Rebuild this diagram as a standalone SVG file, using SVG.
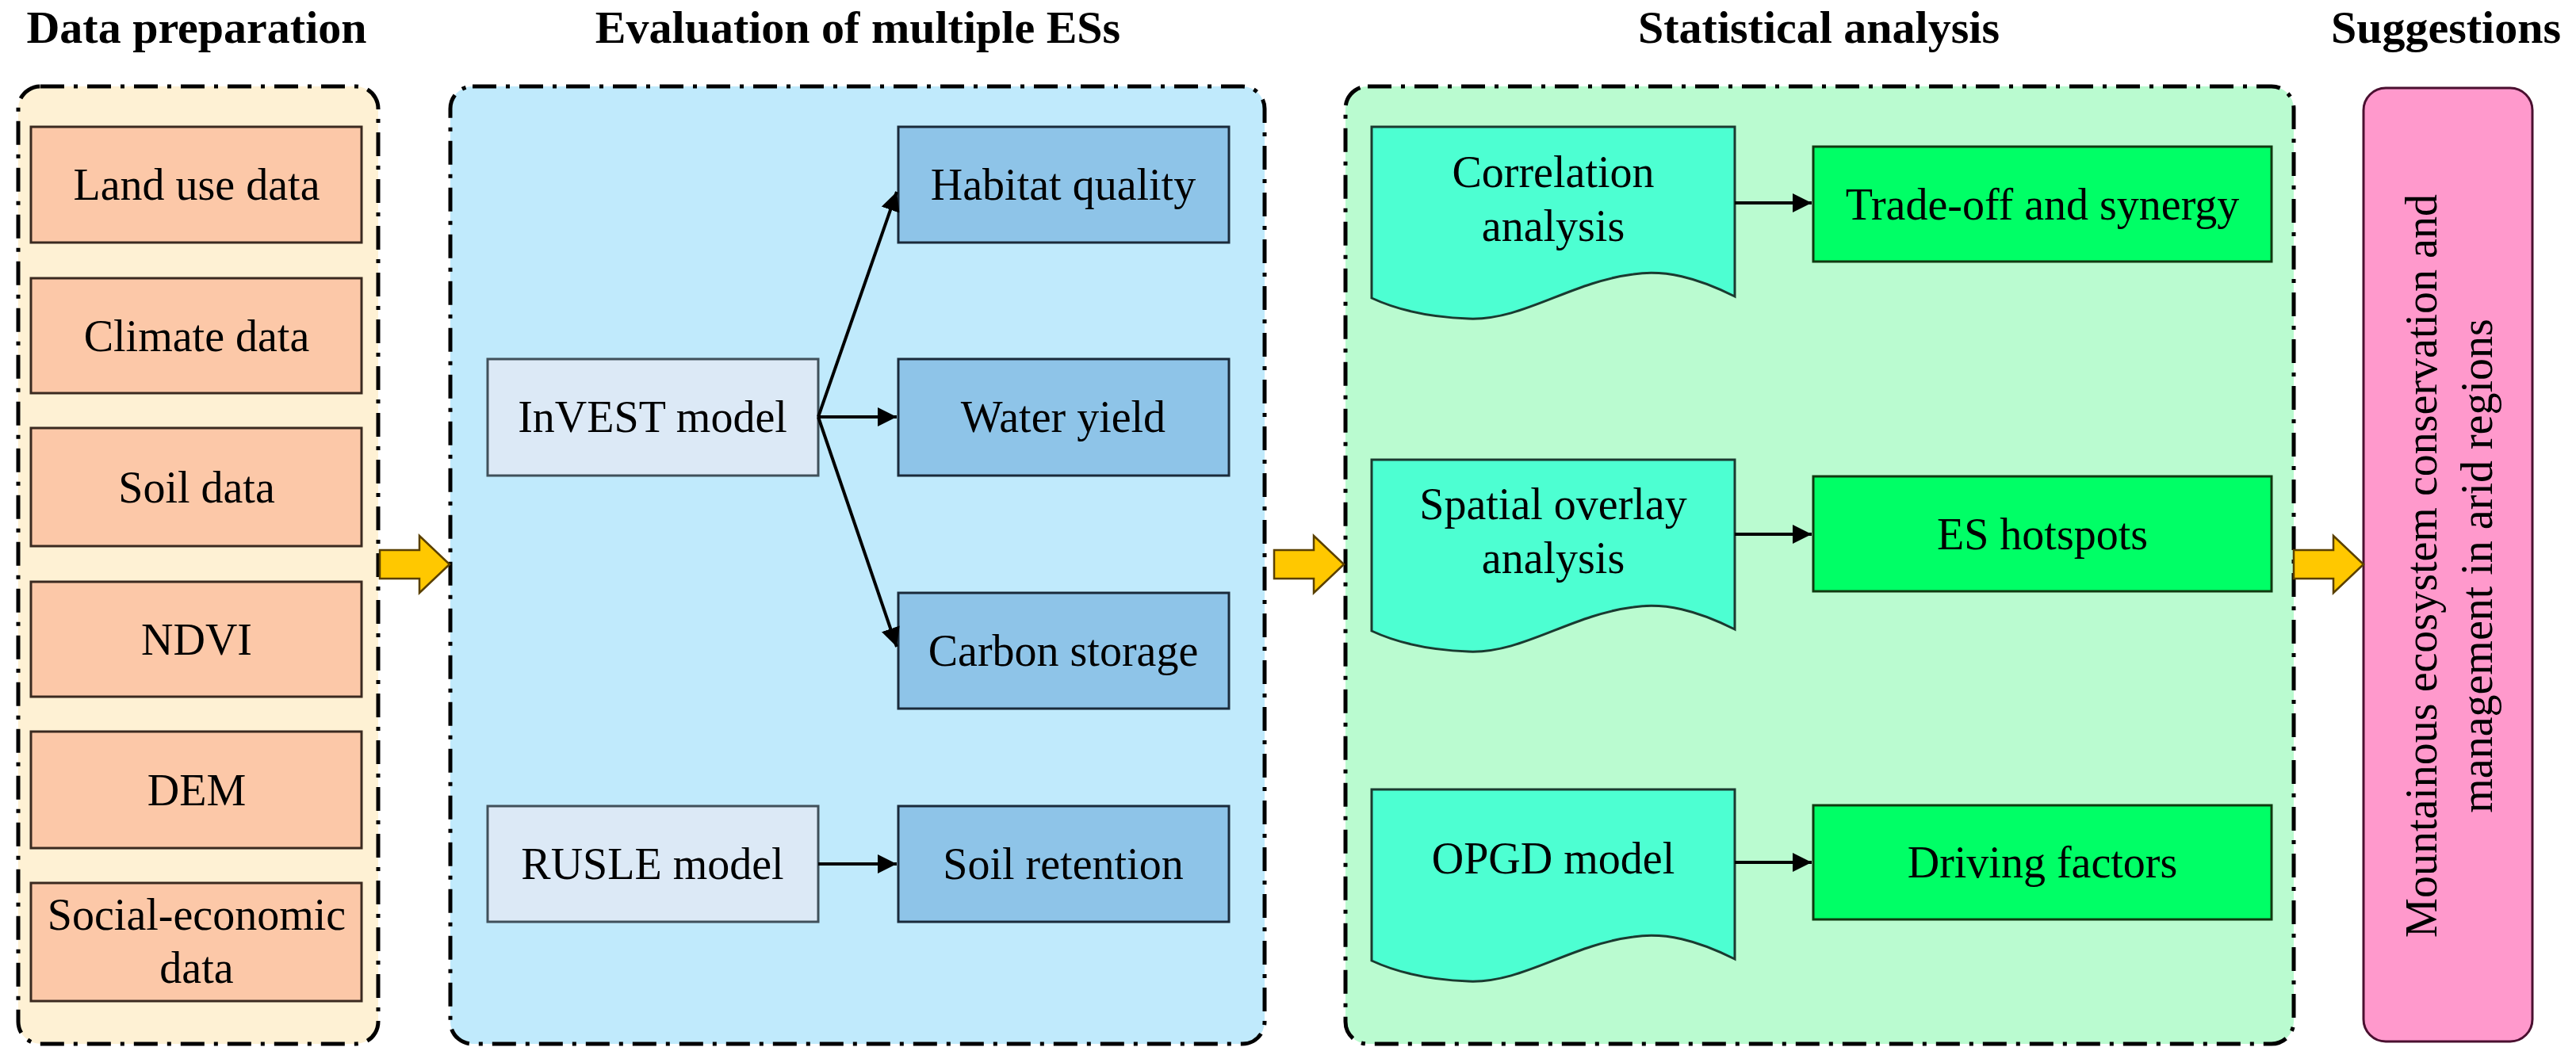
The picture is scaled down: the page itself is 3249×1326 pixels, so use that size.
<svg xmlns="http://www.w3.org/2000/svg" width="3249" height="1326" viewBox="0 0 3249 1326">
<style>
text{font-family:"Liberation Serif","Times New Roman",serif;fill:#000;text-anchor:middle}
.h{font-size:58px;font-weight:bold}
.t{font-size:56px}
.panel{stroke:#000;stroke-width:5;stroke-dasharray:30 12 5 12}
.data{fill:#FCC8A8;stroke:#3a2a20;stroke-width:3}
.model{fill:#DCE9F6;stroke:#40505a;stroke-width:3}
.es{fill:#8EC4E8;stroke:#1a2a3a;stroke-width:3}
.doc{fill:#4DFFD2;stroke:#1a3a30;stroke-width:3}
.res{fill:#00FF66;stroke:#103a10;stroke-width:3}
.con{stroke:#000;stroke-width:4;fill:none;marker-end:url(#ah)}
.big{fill:#FFC800;stroke:#5a4000;stroke-width:2.5}
</style>
<defs>
<marker id="ah" viewBox="0 0 10 10" refX="10" refY="5" markerWidth="6" markerHeight="6" orient="auto" markerUnits="strokeWidth"><path d="M0,0L10,5L0,10z" fill="#000"/></marker>
<path id="docshape" d="M0,0H458V214C410,190 370,180 330,186C250,196 190,245 122,242C70,240 30,230 0,216Z"/>
<path id="fat" d="M0,-18H50V-36L88,0L50,36V18H0Z"/>
</defs>
<rect width="3249" height="1326" fill="#fff"/>

<g id="headings">
<text class="h" x="248" y="54">Data preparation</text>
<text class="h" x="1082" y="54">Evaluation of multiple ESs</text>
<text class="h" x="2294" y="54">Statistical analysis</text>
<text class="h" x="3085" y="54">Suggestions</text>
</g>

<g id="panel-data"><rect class="panel" x="23" y="109" width="454" height="1208" rx="28" fill="#FEF1D4"/></g>
<g id="panel-eval"><rect class="panel" x="568" y="109" width="1027" height="1208" rx="28" fill="#C0EAFC"/></g>
<g id="panel-stat"><rect class="panel" x="1697" y="109" width="1196" height="1208" rx="28" fill="#BAFBD0"/></g>

<g id="n-landuse"><rect class="data" x="39" y="160" width="417" height="146"/><text class="t" x="248" y="252">Land use data</text></g>
<g id="n-climate"><rect class="data" x="39" y="351" width="417" height="145"/><text class="t" x="248" y="443">Climate data</text></g>
<g id="n-soil"><rect class="data" x="39" y="540" width="417" height="149"/><text class="t" x="248" y="634">Soil data</text></g>
<g id="n-ndvi"><rect class="data" x="39" y="734" width="417" height="145"/><text class="t" x="248" y="826">NDVI</text></g>
<g id="n-dem"><rect class="data" x="39" y="923" width="417" height="147"/><text class="t" x="248" y="1016">DEM</text></g>
<g id="n-social"><rect class="data" x="39" y="1114" width="417" height="149"/><text class="t" x="248" y="1173">Social-economic</text><text class="t" x="248" y="1240">data</text></g>

<g id="n-invest"><rect class="model" x="615" y="453" width="417" height="147"/><text class="t" x="823" y="545">InVEST model</text></g>
<g id="n-rusle"><rect class="model" x="615" y="1017" width="417" height="146"/><text class="t" x="823" y="1109">RUSLE model</text></g>
<g id="n-habitat"><rect class="es" x="1133" y="160" width="417" height="146"/><text class="t" x="1341" y="252">Habitat quality</text></g>
<g id="n-water"><rect class="es" x="1133" y="453" width="417" height="147"/><text class="t" x="1341" y="545">Water yield</text></g>
<g id="n-carbon"><rect class="es" x="1133" y="748" width="417" height="146"/><text class="t" x="1341" y="840">Carbon storage</text></g>
<g id="n-soilret"><rect class="es" x="1133" y="1017" width="417" height="146"/><text class="t" x="1341" y="1109">Soil retention</text></g>

<g id="n-corr"><use href="#docshape" class="doc" x="1730" y="160"/><text class="t" x="1959" y="236">Correlation</text><text class="t" x="1959" y="304">analysis</text></g>
<g id="n-spatial"><use href="#docshape" class="doc" x="1730" y="580"/><text class="t" x="1959" y="655">Spatial overlay</text><text class="t" x="1959" y="723">analysis</text></g>
<g id="n-opgd"><use href="#docshape" class="doc" x="1730" y="996"/><text class="t" x="1959" y="1102">OPGD model</text></g>
<g id="n-tradeoff"><rect class="res" x="2287" y="185" width="578" height="145"/><text class="t" x="2576" y="277">Trade-off and synergy</text></g>
<g id="n-hotspots"><rect class="res" x="2287" y="601" width="578" height="145"/><text class="t" x="2576" y="693">ES hotspots</text></g>
<g id="n-driving"><rect class="res" x="2287" y="1016" width="578" height="144"/><text class="t" x="2576" y="1107">Driving factors</text></g>

<g id="n-suggest"><rect x="2981" y="111" width="213" height="1203" rx="28" fill="#FF99CC" stroke="#4a1030" stroke-width="3"/>
<text class="t" transform="translate(3054,714) rotate(-90)" y="19">Mountainous ecosystem conservation and</text>
<text class="t" transform="translate(3124,714) rotate(-90)" y="19">management in arid regions</text></g>

<g id="connectors">
<path class="con" d="M1032,526L1131,242"/>
<path class="con" d="M1032,526H1131"/>
<path class="con" d="M1032,526L1131,816"/>
<path class="con" d="M1032,1090H1131"/>
<path class="con" d="M2188,256H2285"/>
<path class="con" d="M2188,674H2285"/>
<path class="con" d="M2188,1088H2285"/>
<use href="#fat" class="big" x="479" y="712"/>
<use href="#fat" class="big" x="1607" y="712"/>
<use href="#fat" class="big" x="2893" y="712"/>
</g>
</svg>
